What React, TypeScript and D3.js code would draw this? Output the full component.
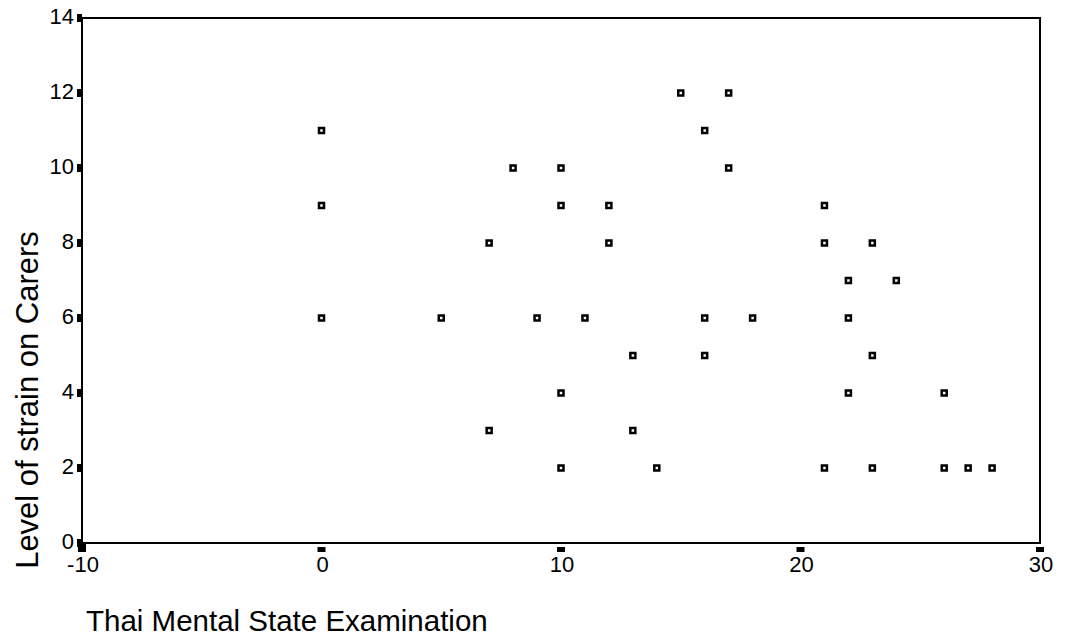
import React, { useEffect, useRef } from 'react';
import * as d3 from 'd3';

// Thai Mental State Examination score vs level of strain on carers
const tmseScores: number[] = [
  0, 0, 0, 5, 7, 7, 8, 9, 10, 10, 10, 10, 11, 12, 12, 13, 13, 14, 15, 16,
  16, 16, 17, 17, 18, 21, 21, 21, 22, 22, 22, 23, 23, 23, 24, 26, 26, 27, 28,
];
const strainLevels: number[] = [
  11, 9, 6, 6, 8, 3, 10, 6, 10, 9, 4, 2, 6, 9, 8, 5, 3, 2, 12, 11,
  6, 5, 12, 10, 6, 9, 8, 2, 7, 6, 4, 8, 5, 2, 7, 4, 2, 2, 2,
];
const xTicks: number[] = [-10, 0, 10, 20, 30];
const yTicks: number[] = [0, 2, 4, 6, 8, 10, 12, 14];

const xTitle = 'Thai Mental State Examination';
const yTitle = 'Level of strain on Carers';

const App = () => {
  const svgRef = useRef<SVGSVGElement | null>(null);

  useEffect(() => {
    const svg = d3.select(svgRef.current);
    svg.selectAll('*').remove();

    const left = 82;
    const right = 1040;
    const top = 18;
    const bottom = 543;
    const font = 'Arial, "Liberation Sans", sans-serif';

    const x = d3.scaleLinear().domain([-10, 30]).range([left, right]);
    const y = d3.scaleLinear().domain([0, 14]).range([bottom, top]);

    const data = tmseScores.map((s, i) => ({ x: s, y: strainLevels[i] }));

    // frame
    svg
      .append('rect')
      .attr('x', left)
      .attr('y', top)
      .attr('width', right - left)
      .attr('height', bottom - top)
      .attr('fill', 'none')
      .attr('stroke', '#000')
      .attr('stroke-width', 2);

    // y ticks (small blocks left of the axis)
    svg
      .append('g')
      .selectAll('rect')
      .data(yTicks)
      .join('rect')
      .attr('x', left - 5)
      .attr('y', (d) => y(d) - 4)
      .attr('width', 5)
      .attr('height', 8)
      .attr('fill', '#000');

    svg
      .append('g')
      .selectAll('text')
      .data(yTicks)
      .join('text')
      .attr('x', left - 8)
      .attr('y', (d) => y(d) - 2)
      .attr('dy', '0.35em')
      .attr('text-anchor', 'end')
      .attr('font-family', font)
      .attr('font-size', 22)
      .text((d) => d);

    // x ticks (small blocks under the axis)
    svg
      .append('g')
      .selectAll('rect')
      .data(xTicks)
      .join('rect')
      .attr('x', (d) => x(d) - 4)
      .attr('y', (d) => (d === -10 ? bottom : bottom + 4))
      .attr('width', 8)
      .attr('height', (d) => (d === -10 ? 9 : 5))
      .attr('fill', '#000');

    svg
      .append('g')
      .selectAll('text')
      .data(xTicks)
      .join('text')
      .attr('x', (d) => x(d) + 1)
      .attr('y', bottom + 29)
      .attr('text-anchor', 'middle')
      .attr('font-family', font)
      .attr('font-size', 22)
      .text((d) => d);

    // points
    svg
      .append('g')
      .selectAll('rect')
      .data(data)
      .join('rect')
      .attr('x', (d) => x(d.x) - 2.5)
      .attr('y', (d) => y(d.y) - 2.5)
      .attr('width', 5)
      .attr('height', 5)
      .attr('fill', '#fff')
      .attr('stroke', '#000')
      .attr('stroke-width', 2.5);

    // axis titles
    svg
      .append('text')
      .attr('x', 86)
      .attr('y', 631)
      .attr('font-family', font)
      .attr('font-size', 29.5)
      .text(xTitle);

    svg
      .append('text')
      .attr('transform', 'translate(38,400) rotate(-90)')
      .attr('text-anchor', 'middle')
      .attr('font-family', font)
      .attr('font-size', 31)
      .text(yTitle);
  }, []);

  return (
    <svg
      ref={svgRef}
      width={1066}
      height={637}
      style={{ position: 'absolute', left: 0, top: 0, background: '#fff' }}
    ></svg>
  );
};

export default App;
